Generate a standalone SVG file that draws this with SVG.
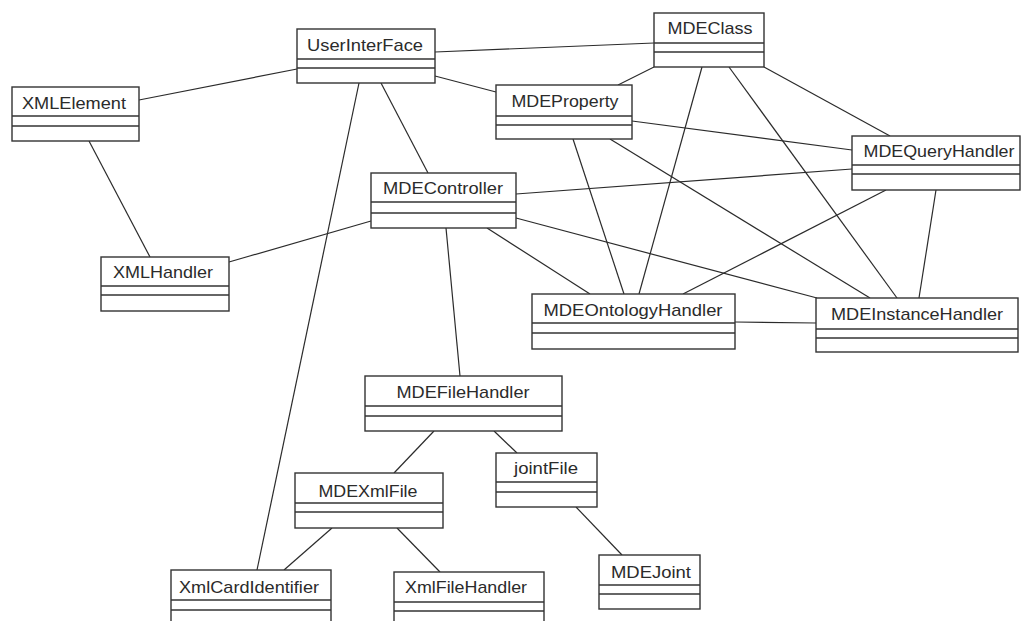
<svg xmlns="http://www.w3.org/2000/svg" width="1022" height="621" viewBox="0 0 1022 621">
<style>
.box{fill:#fff;stroke:#333;stroke-width:1.4}
.div{stroke:#333;stroke-width:1.3}
.lbl{font-family:"Liberation Sans",Arial,sans-serif;font-size:17px;fill:#2b2b2b;text-anchor:middle}
.conn line{stroke:#2b2b2b;stroke-width:1.2}
</style>
<rect width="1022" height="621" fill="#fff"/>
<g id="connectors" class="conn">
<line x1="297" y1="69" x2="139" y2="100"/>
<line x1="435" y1="52" x2="654" y2="43"/>
<line x1="435" y1="76" x2="496" y2="92"/>
<line x1="381" y1="83" x2="428" y2="173"/>
<line x1="359" y1="83" x2="257" y2="570"/>
<line x1="89" y1="141" x2="150" y2="257"/>
<line x1="371" y1="221" x2="229" y2="262"/>
<line x1="446" y1="228" x2="460" y2="376"/>
<line x1="516" y1="194" x2="852" y2="169"/>
<line x1="487" y1="228" x2="590" y2="294"/>
<line x1="516" y1="218" x2="817" y2="298"/>
<line x1="654" y1="67" x2="618" y2="85"/>
<line x1="702" y1="67" x2="639" y2="294"/>
<line x1="729" y1="67" x2="897" y2="298"/>
<line x1="764" y1="67" x2="890" y2="136"/>
<line x1="632" y1="121" x2="852" y2="150"/>
<line x1="573" y1="139" x2="624" y2="294"/>
<line x1="610" y1="139" x2="870" y2="298"/>
<line x1="886" y1="190" x2="683" y2="294"/>
<line x1="936" y1="190" x2="919" y2="298"/>
<line x1="735" y1="322" x2="816" y2="323"/>
<line x1="434" y1="431" x2="394" y2="473"/>
<line x1="494" y1="431" x2="517" y2="453"/>
<line x1="332" y1="528" x2="284" y2="570"/>
<line x1="397" y1="528" x2="440" y2="572"/>
<line x1="576" y1="507" x2="622" y2="555"/>
</g>
<g id="UserInterFace">
<rect class="box" x="297" y="29" width="138" height="54"/>
<line class="div" x1="297" y1="59" x2="435" y2="59"/><line class="div" x1="297" y1="68" x2="435" y2="68"/>
<text class="lbl" x="365" y="51" textLength="116" lengthAdjust="spacingAndGlyphs">UserInterFace</text>
</g>
<g id="XMLElement">
<rect class="box" x="12" y="87" width="127" height="54"/>
<line class="div" x1="12" y1="116" x2="139" y2="116"/><line class="div" x1="12" y1="126" x2="139" y2="126"/>
<text class="lbl" x="74" y="109" textLength="104" lengthAdjust="spacingAndGlyphs">XMLElement</text>
</g>
<g id="MDEController">
<rect class="box" x="371" y="173" width="145" height="55"/>
<line class="div" x1="371" y1="202" x2="516" y2="202"/><line class="div" x1="371" y1="213" x2="516" y2="213"/>
<text class="lbl" x="443" y="194" textLength="120" lengthAdjust="spacingAndGlyphs">MDEController</text>
</g>
<g id="XMLHandler">
<rect class="box" x="101" y="257" width="128" height="54"/>
<line class="div" x1="101" y1="286" x2="229" y2="286"/><line class="div" x1="101" y1="295" x2="229" y2="295"/>
<text class="lbl" x="163" y="278" textLength="100" lengthAdjust="spacingAndGlyphs">XMLHandler</text>
</g>
<g id="MDEClass">
<rect class="box" x="654" y="13" width="110" height="54"/>
<line class="div" x1="654" y1="43" x2="764" y2="43"/><line class="div" x1="654" y1="52" x2="764" y2="52"/>
<text class="lbl" x="710" y="34" textLength="85" lengthAdjust="spacingAndGlyphs">MDEClass</text>
</g>
<g id="MDEProperty">
<rect class="box" x="496" y="85" width="136" height="54"/>
<line class="div" x1="496" y1="116" x2="632" y2="116"/><line class="div" x1="496" y1="125" x2="632" y2="125"/>
<text class="lbl" x="565" y="107" textLength="107" lengthAdjust="spacingAndGlyphs">MDEProperty</text>
</g>
<g id="MDEQueryHandler">
<rect class="box" x="852" y="136" width="168" height="54"/>
<line class="div" x1="852" y1="165" x2="1020" y2="165"/><line class="div" x1="852" y1="174" x2="1020" y2="174"/>
<text class="lbl" x="939" y="157" textLength="151" lengthAdjust="spacingAndGlyphs">MDEQueryHandler</text>
</g>
<g id="MDEOntologyHandler">
<rect class="box" x="532" y="294" width="203" height="55"/>
<line class="div" x1="532" y1="323" x2="735" y2="323"/><line class="div" x1="532" y1="333" x2="735" y2="333"/>
<text class="lbl" x="633" y="316" textLength="179" lengthAdjust="spacingAndGlyphs">MDEOntologyHandler</text>
</g>
<g id="MDEInstanceHandler">
<rect class="box" x="816" y="298" width="202" height="54"/>
<line class="div" x1="816" y1="329" x2="1018" y2="329"/><line class="div" x1="816" y1="338" x2="1018" y2="338"/>
<text class="lbl" x="917" y="320" textLength="172" lengthAdjust="spacingAndGlyphs">MDEInstanceHandler</text>
</g>
<g id="MDEFileHandler">
<rect class="box" x="365" y="376" width="197" height="55"/>
<line class="div" x1="365" y1="406" x2="562" y2="406"/><line class="div" x1="365" y1="416" x2="562" y2="416"/>
<text class="lbl" x="463" y="398" textLength="133" lengthAdjust="spacingAndGlyphs">MDEFileHandler</text>
</g>
<g id="MDEXmlFile">
<rect class="box" x="295" y="473" width="148" height="55"/>
<line class="div" x1="295" y1="503" x2="443" y2="503"/><line class="div" x1="295" y1="512" x2="443" y2="512"/>
<text class="lbl" x="368" y="497" textLength="99" lengthAdjust="spacingAndGlyphs">MDEXmlFile</text>
</g>
<g id="jointFile">
<rect class="box" x="496" y="453" width="101" height="54"/>
<line class="div" x1="496" y1="482" x2="597" y2="482"/><line class="div" x1="496" y1="492" x2="597" y2="492"/>
<text class="lbl" x="546" y="474" textLength="64" lengthAdjust="spacingAndGlyphs">jointFile</text>
</g>
<g id="XmlCardIdentifier">
<rect class="box" x="171" y="570" width="160" height="60"/>
<line class="div" x1="171" y1="600" x2="331" y2="600"/><line class="div" x1="171" y1="610" x2="331" y2="610"/>
<text class="lbl" x="249" y="593" textLength="140" lengthAdjust="spacingAndGlyphs">XmlCardIdentifier</text>
</g>
<g id="XmlFileHandler">
<rect class="box" x="394" y="572" width="150" height="60"/>
<line class="div" x1="394" y1="602" x2="544" y2="602"/><line class="div" x1="394" y1="611" x2="544" y2="611"/>
<text class="lbl" x="466" y="593" textLength="122" lengthAdjust="spacingAndGlyphs">XmlFileHandler</text>
</g>
<g id="MDEJoint">
<rect class="box" x="599" y="555" width="101" height="54"/>
<line class="div" x1="599" y1="585" x2="700" y2="585"/><line class="div" x1="599" y1="594" x2="700" y2="594"/>
<text class="lbl" x="651" y="578" textLength="80" lengthAdjust="spacingAndGlyphs">MDEJoint</text>
</g>
</svg>
